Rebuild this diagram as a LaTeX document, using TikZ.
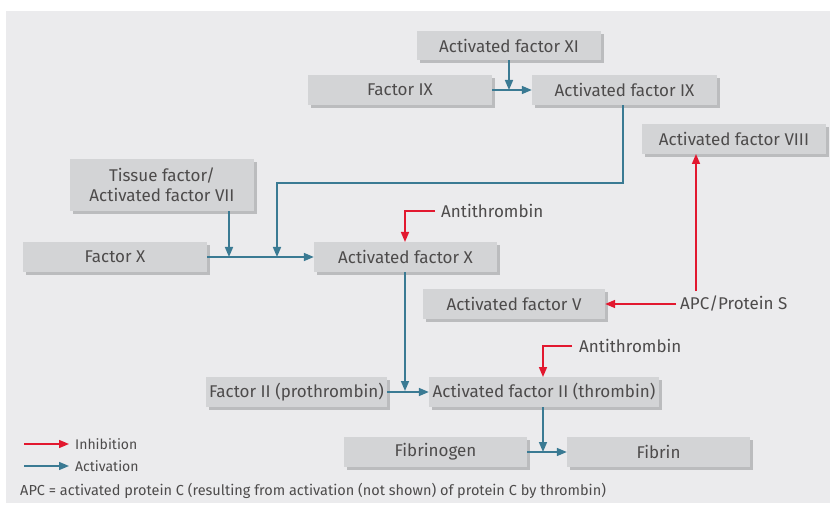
\documentclass[tikz,border=0pt]{standalone}
\usepackage{fontspec}
\setmainfont{Fira Sans}
\usetikzlibrary{arrows.meta,shadows}
\definecolor{bg}{HTML}{EBEBED}
\definecolor{boxfill}{HTML}{D3D4D6}
\definecolor{boxshadow}{HTML}{BBBCBE}
\definecolor{actblue}{HTML}{3A7A93}
\definecolor{inhred}{HTML}{E2182F}
\definecolor{txt}{HTML}{4D4B4B}
\tikzset{
  factorbox/.style={rectangle, fill=boxfill, inner sep=0pt, minimum height=30pt,
    minimum width=184pt, align=center, text=txt,
    font=\fontsize{17}{20}\selectfont,
    drop shadow={shadow xshift=3pt, shadow yshift=-3pt, fill=boxshadow, opacity=1}},
  plaintext/.style={inner sep=0pt, text=txt, font=\fontsize{17}{20}\selectfont, anchor=west},
  act/.style={draw=actblue, line width=1.6pt, -{Triangle[length=10pt,width=8pt]}},
  inh/.style={draw=inhred, line width=1.6pt, -{Triangle[length=10pt,width=8pt]}},
}
\begin{document}
\begin{tikzpicture}[x=1pt,y=-1pt]
\useasboundingbox (0,0) rectangle (830,505);
\fill[bg] (6,11) rectangle (830,503);

\node[factorbox, minimum height=29pt] (axi) at (509,45.5) {Activated factor XI};
\node[factorbox] (f9) at (400,90) {Factor IX};
\node[factorbox, minimum width=185pt] (a9) at (624.5,90) {Activated factor IX};
\node[factorbox] (a8) at (734,139) {Activated factor VIII};
\node[factorbox, minimum height=52pt] (tf) at (162,185) {Tissue factor/\\Activated factor VII};
\node[factorbox] (fx) at (115,257) {Factor X};
\node[factorbox, minimum width=183pt] (ax) at (405.5,257) {Activated factor X};
\node[factorbox, minimum width=182pt] (av) at (514,304) {Activated factor V};
\node[factorbox, minimum width=181pt] (f2) at (296.5,392) {Factor II (prothrombin)};
\node[factorbox, minimum width=230pt] (a2) at (544,392) {Activated factor II (thrombin)};
\node[factorbox, minimum width=183pt] (fib) at (435.5,452) {Fibrinogen};
\node[factorbox, minimum width=183pt] (fibrin) at (658.5,452) {Fibrin};

\node[plaintext] (at1) at (441,211) {Antithrombin};
\node[plaintext] (apc) at (680,304) {APC/Protein S};
\node[plaintext] (at2) at (579,346) {Antithrombin};

% activation connectors
\coordinate (j9) at (509,90);
\draw[act] (axi.south -| j9) -- (j9);
\draw[act] (f9.east) -- (a9.west);
\coordinate (a9out) at (623,105);
\coordinate (jx) at (277,257);
\coordinate (jtf) at (229,257);
\draw[act] (a9.south -| a9out) |- (623,183) -| (jx);
\draw[act] (tf.south -| jtf) -- (jtf);
\draw[act] (fx.east) -- (ax.west);
\coordinate (j2) at (405,391);
\draw[act] (ax.south -| j2) -- (j2);
\draw[act] (f2.east) -- (a2.west);
\coordinate (jf) at (543,452);
\draw[act] (a2.south -| jf) -- (jf);
\draw[act] (fib.east) -- (fibrin.west);

% inhibition connectors
\coordinate (ax405) at (405,242);
\draw[inh] ([xshift=-6pt]at1.west) -| (ax405);
\draw[inh] ([xshift=-4pt]apc.west) -- (av.east);
\coordinate (a8in) at (696,154);
\draw[inh] (696,291) -- (a8in);
\coordinate (a2in) at (543,377);
\draw[inh] ([xshift=-7pt]at2.west) -| (a2in);

% legend
\coordinate (l1a) at (24,444); \coordinate (l1b) at (69,444);
\coordinate (l2a) at (24,466); \coordinate (l2b) at (69,466);
\draw[inh, line width=1.4pt] (l1a) -- (l1b);
\draw[act, line width=1.4pt] (l2a) -- (l2b);
\node[plaintext, font=\fontsize{14}{16}\selectfont] (linh) at (75,444) {Inhibition};
\node[plaintext, font=\fontsize{14}{16}\selectfont] (lact) at (75,466) {Activation};
\node[plaintext, font=\fontsize{14.5}{16}\selectfont] (foot) at (20,491) {APC = activated protein C (resulting from activation (not shown) of protein C by thrombin)};
\end{tikzpicture}
\end{document}
